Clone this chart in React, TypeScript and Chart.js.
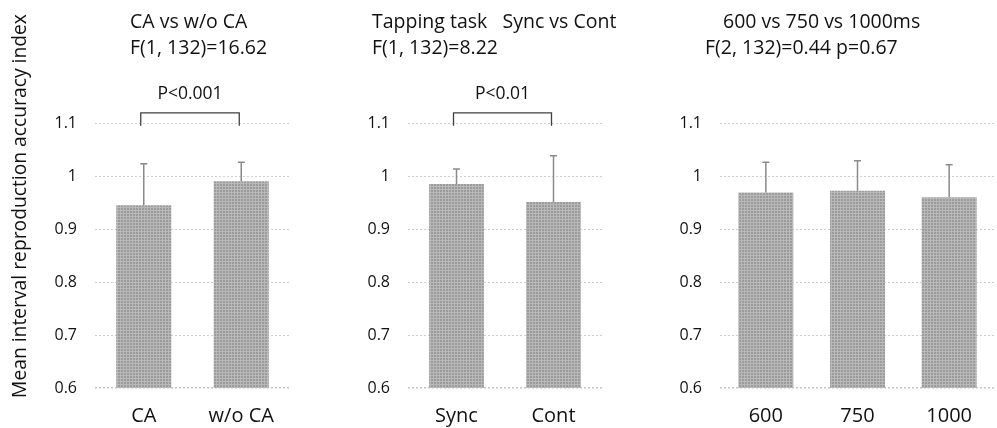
import React, { useEffect, useRef } from "react";
import { Chart, registerables } from "chart.js";

Chart.register(...registerables);

// ---- data ----
const yTicks = [0.6, 0.7, 0.8, 0.9, 1, 1.1];
const yAxisTitle = "Mean interval reproduction accuracy index";

const p1Categories = ["CA", "w/o CA"];
const p1Means = [0.945, 0.99];
const p1Errors = [0.078, 0.036];
const p1Titles = ["CA vs w/o CA", "F(1, 132)=16.62"];
const p1Sig = "P<0.001";

const p2Categories = ["Sync", "Cont"];
const p2Means = [0.985, 0.951];
const p2Errors = [0.028, 0.087];
const p2Titles = ["Tapping task   Sync vs Cont", "F(1, 132)=8.22"];
const p2Sig = "P<0.01";

const p3Categories = ["600", "750", "1000"];
const p3Means = [0.969, 0.972, 0.96];
const p3Errors = [0.057, 0.057, 0.061];
const p3Titles = ["600 vs 750 vs 1000ms", "F(2, 132)=0.44 p=0.67"];

const FONT = "'Open Sans', sans-serif";

function makePattern(ctx: CanvasRenderingContext2D): CanvasPattern | string {
  const c = document.createElement("canvas");
  c.width = 3;
  c.height = 3;
  const g = c.getContext("2d");
  if (!g) return "#a8a8a8";
  g.fillStyle = "#9c9c9c";
  g.fillRect(0, 0, 3, 3);
  g.fillStyle = "#b8b8b8";
  g.fillRect(0, 0, 3, 1);
  g.fillRect(0, 0, 1, 3);
  return ctx.createPattern(c, "repeat") || "#a8a8a8";
}

interface PanelProps {
  left: number;
  width: number;
  yAxisWidth: number;
  padRight: number;
  categories: string[];
  means: number[];
  errors: number[];
  titles: string[];
  titleX: number[];
  sig?: string;
  showYTitle?: boolean;
  barPct: number;
}

function Panel(props: PanelProps) {
  const ref = useRef<HTMLCanvasElement>(null);
  useEffect(() => {
    const canvas = ref.current;
    if (!canvas) return;
    const ctx = canvas.getContext("2d");
    if (!ctx) return;
    const pattern = makePattern(ctx);

    const overlay = {
      id: "overlay",
      afterDatasetsDraw(chart: any) {
        const c = chart.ctx as CanvasRenderingContext2D;
        const xs = chart.scales.x;
        const ys = chart.scales.y;
        // error bars
        c.save();
        c.strokeStyle = "#8a8a8a";
        c.lineWidth = 1.5;
        props.means.forEach((m, i) => {
          const x = xs.getPixelForValue(i);
          const y0 = ys.getPixelForValue(m);
          const y1 = ys.getPixelForValue(m + props.errors[i]);
          c.beginPath();
          c.moveTo(x, y0);
          c.lineTo(x, y1);
          c.moveTo(x - 3.5, y1);
          c.lineTo(x + 3.5, y1);
          c.stroke();
        });
        c.restore();
        // significance bracket
        if (props.sig) {
          const xa = xs.getPixelForValue(0) - 3;
          const xb = xs.getPixelForValue(1) - 2;
          const yt = ys.getPixelForValue(1.119);
          const yb = ys.getPixelForValue(1.095);
          c.save();
          c.strokeStyle = "#404040";
          c.lineWidth = 1.3;
          c.beginPath();
          c.moveTo(xa, yb);
          c.lineTo(xa, yt);
          c.lineTo(xb, yt);
          c.lineTo(xb, yb);
          c.stroke();
          c.fillStyle = "#111";
          c.font = `17.5px ${FONT}`;
          c.textAlign = "center";
          c.textBaseline = "middle";
          c.fillText(props.sig, (xa + xb) / 2, ys.getPixelForValue(1.154));
          c.restore();
        }
        // titles
        c.save();
        c.fillStyle = "#111";
        c.font = `19.5px ${FONT}`;
        c.textAlign = "left";
        c.textBaseline = "middle";
        props.titles.forEach((t, i) => {
          c.fillText(t, props.titleX[i], 22 + i * 26);
        });
        c.restore();
        // y-axis title
        if (props.showYTitle) {
          c.save();
          c.fillStyle = "#111";
          c.font = `20px ${FONT}`;
          const w = c.measureText(yAxisTitle).width;
          const size = Math.min(20, (20 * 384) / w);
          c.font = `${size}px ${FONT}`;
          c.translate(21, 206);
          c.rotate(-Math.PI / 2);
          c.textAlign = "center";
          c.textBaseline = "middle";
          c.fillText(yAxisTitle, 0, 0);
          c.restore();
        }
      },
    };

    const chart = new Chart(canvas, {
      type: "bar",
      data: {
        labels: props.categories,
        datasets: [
          {
            data: props.means,
            backgroundColor: pattern as any,
            borderWidth: 0,
            categoryPercentage: 1,
            barPercentage: props.barPct,
          },
        ],
      },
      options: {
        animation: false,
        responsive: false,
        maintainAspectRatio: false,
        layout: { padding: { top: 123, right: props.padRight, left: 0, bottom: 0 } },
        plugins: { legend: { display: false }, tooltip: { enabled: false } },
        scales: {
          x: {
            grid: { display: false },
            border: { display: false },
            ticks: {
              color: "#111",
              font: { family: FONT, size: 20 },
              padding: 8,
            },
            afterFit(scale: any) {
              scale.height = 40;
            },
          },
          y: {
            min: 0.6,
            max: 1.1,
            afterBuildTicks(scale: any) {
              scale.ticks = yTicks.map((v) => ({ value: v }));
            },
            ticks: {
              color: "#111",
              font: { family: FONT, size: 16 },
              padding: 18,
              callback: (v: any) => String(Math.round(Number(v) * 10) / 10),
            },
            grid: {
              color: (c: any) => (c.tick && c.tick.value === 0.6 ? "#c4c4c4" : "#d0d0d0"),
              lineWidth: (c: any) => (c.tick && c.tick.value === 0.6 ? 1.5 : 1),
              drawTicks: false,
            },
            border: { display: false, dash: [2, 2] },
            afterFit(scale: any) {
              scale.width = props.yAxisWidth;
            },
          },
        },
      },
      plugins: [overlay],
    });
    return () => chart.destroy();
  }, []);

  return (
    <canvas
      ref={ref}
      width={props.width}
      height={428}
      style={{ position: "absolute", left: props.left, top: 0, width: props.width, height: 428 }}
    />
  );
}

export default function App() {
  useEffect(() => {
    document.body.style.margin = "0";
  }, []);
  return (
    <div style={{ position: "relative", width: 997, height: 428, background: "#fff", overflow: "hidden" }}>
      <Panel
        left={0}
        width={300}
        yAxisWidth={95}
        padRight={10}
        categories={p1Categories}
        means={p1Means}
        errors={p1Errors}
        titles={p1Titles}
        titleX={[130, 130]}
        sig={p1Sig}
        showYTitle
        barPct={0.565}
      />
      <Panel
        left={340}
        width={300}
        yAxisWidth={68}
        padRight={38}
        categories={p2Categories}
        means={p2Means}
        errors={p2Errors}
        titles={p2Titles}
        titleX={[32, 32]}
        sig={p2Sig}
        barPct={0.565}
      />
      <Panel
        left={660}
        width={337}
        yAxisWidth={60}
        padRight={2}
        categories={p3Categories}
        means={p3Means}
        errors={p3Errors}
        titles={p3Titles}
        titleX={[63, 45]}
        barPct={0.6}
      />
    </div>
  );
}
